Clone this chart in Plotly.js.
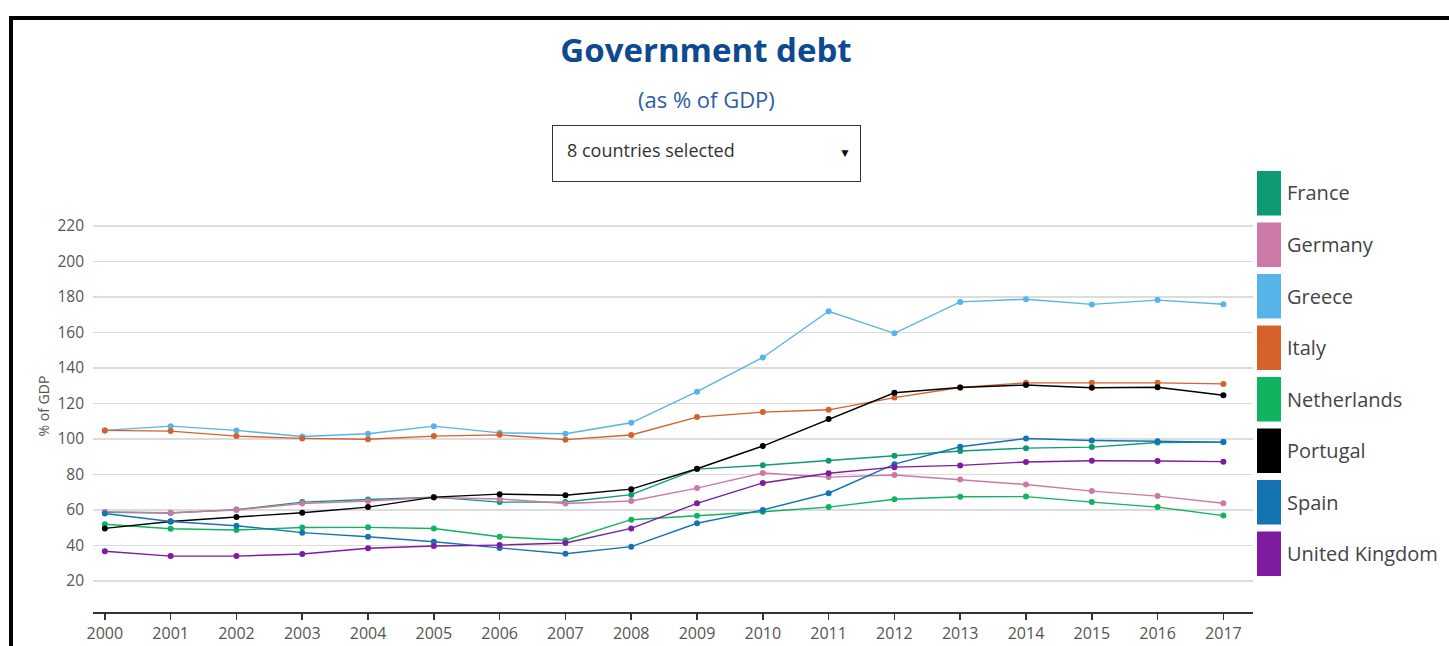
<!DOCTYPE html>
<html>
<head>
<meta charset="utf-8">
<script src="https://cdn.plot.ly/plotly-3.0.1.min.js"></script>
<style>
  html, body { margin: 0; padding: 0; background: #fff; }
  #wrap { position: relative; width: 1449px; height: 646px; overflow: hidden; }
  #chart { position: absolute; left: 0; top: 0; width: 1449px; height: 646px; }
  #frame { position: absolute; left: 9px; top: 16px; width: 1460px; height: 660px;
           border-top: 4px solid #000; border-left: 4px solid #000; pointer-events: none; }
  #dropdown { position: absolute; left: 552px; top: 125px; width: 307px; height: 55px;
              border: 1px solid #333; background: #fff; font-family: "Open Sans", sans-serif;
              font-size: 18px; color: #333; box-sizing: content-box; }
  #dropdown .lbl { position: absolute; left: 14px; top: 12px; }
  #dropdown .arr { position: absolute; right: 9px; top: 18px; font-size: 12px; color: #111; }
</style>
</head>
<body>
<div id="wrap">
  <div id="chart"></div>
  <div id="frame"></div>
  <div id="dropdown"><span class="lbl">8 countries selected</span><span class="arr">&#9660;</span></div>
</div>
<script>
// ---- Data ----
const years = [2000, 2001, 2002, 2003, 2004, 2005, 2006, 2007, 2008,
               2009, 2010, 2011, 2012, 2013, 2014, 2015, 2016, 2017];

const countries = ["France", "Germany", "Greece", "Italy", "Netherlands",
                   "Portugal", "Spain", "United Kingdom"];

const france      = [58.7, 58.3, 60.2, 64.4, 65.9, 67.2, 64.4, 64.5, 68.6, 83.0, 85.2, 87.7, 90.5, 93.2, 94.8, 95.4, 98.0, 98.2];
const germany     = [58.9, 58.4, 60.0, 63.6, 65.0, 67.0, 66.2, 63.6, 65.0, 72.3, 80.8, 78.5, 79.7, 77.2, 74.3, 70.6, 67.8, 63.8];
const greece      = [104.8, 107.2, 104.8, 101.4, 102.9, 107.2, 103.4, 102.9, 109.1, 126.6, 145.9, 171.9, 159.5, 177.2, 178.7, 175.8, 178.2, 175.9];
const italy       = [104.8, 104.4, 101.6, 100.3, 99.8, 101.6, 102.3, 99.6, 102.2, 112.3, 115.1, 116.4, 123.3, 129.0, 131.6, 131.6, 131.6, 131.0];
const netherlands = [51.9, 49.4, 48.7, 50.1, 50.2, 49.5, 44.9, 42.9, 54.5, 56.7, 59.0, 61.6, 66.0, 67.4, 67.5, 64.4, 61.6, 56.8];
const portugal    = [49.6, 53.5, 56.0, 58.4, 61.6, 67.2, 68.9, 68.3, 71.7, 83.2, 96.0, 111.2, 126.0, 129.0, 130.4, 128.8, 129.1, 124.6];
const spain       = [58.0, 53.5, 51.1, 47.2, 44.9, 42.1, 38.6, 35.3, 39.3, 52.5, 60.0, 69.4, 85.8, 95.6, 100.2, 99.1, 98.7, 98.2];
const uk          = [36.7, 34.0, 34.0, 35.2, 38.4, 39.7, 40.2, 41.4, 49.6, 63.7, 75.2, 80.7, 84.1, 85.1, 87.0, 87.7, 87.6, 87.2];

const seriesValues = [france, germany, greece, italy, netherlands, portugal, spain, uk];

const yTickValues = [20, 40, 60, 80, 100, 120, 140, 160, 180, 200, 220];

// ---- Styles ----
const colors = ["#0e9b74", "#cc79a7", "#56b4e9", "#d5622a", "#10b35f", "#000000", "#1473b3", "#7e1ba1"];
const FONT = '"Open Sans", "Noto Sans", sans-serif';

// plot area in pixels
const W = 1449, H = 646;
const L = 93, R = 1253, T = 200, B = 612;
const pxX = px => (px - L) / (R - L);
const pxY = py => (B - py) / (B - T);

const traces = countries.map((name, i) => ({
  type: "scatter",
  mode: "lines+markers",
  name: name,
  x: years,
  y: seriesValues[i],
  line: { color: colors[i], width: 1.4 },
  marker: { color: colors[i], size: 6 },
  showlegend: false,
  hoverinfo: "x+y+name"
}));

// custom legend: big rectangles + labels
const shapes = [];
const annotations = [];
countries.forEach((name, i) => {
  const top = 171 + i * 51.5;
  shapes.push({
    type: "rect", xref: "paper", yref: "paper",
    x0: pxX(1257), x1: pxX(1281), y0: pxY(top + 44.5), y1: pxY(top),
    fillcolor: colors[i], line: { width: 0 }
  });
  annotations.push({
    xref: "paper", yref: "paper",
    x: pxX(1285), y: pxY(top + 22),
    xanchor: "left", yanchor: "middle",
    text: name, showarrow: false,
    font: { family: FONT, size: 20, color: "#444" }
  });
});

// subtitle
annotations.push({
  xref: "paper", yref: "paper",
  x: pxX(706), y: pxY(99),
  xanchor: "center", yanchor: "middle",
  text: "(as % of GDP)", showarrow: false,
  font: { family: FONT, size: 22, color: "#2a5ea3" }
});

const layout = {
  width: W, height: H,
  margin: { l: L, r: W - R, t: T, b: H - B, pad: 0 },
  paper_bgcolor: "#fff",
  plot_bgcolor: "#fff",
  font: { family: FONT, color: "#555" },
  title: {
    text: "<b>Government debt</b>",
    font: { family: FONT, size: 33, color: "#0d4a8f" },
    xref: "container", yref: "container",
    x: 706 / W, y: 1 - 50 / H,
    xanchor: "center", yanchor: "middle"
  },
  xaxis: {
    range: [1999.82, 2017.45],
    tickvals: years,
    ticktext: years.map(String),
    showgrid: false,
    zeroline: false,
    showline: true,
    linecolor: "#333",
    linewidth: 1.5,
    ticks: "outside",
    ticklen: 6,
    tickwidth: 1.5,
    tickcolor: "#333",
    tickfont: { family: FONT, size: 16, color: "#555" },
    fixedrange: true
  },
  yaxis: {
    range: [2.5, 234.6],
    tickvals: yTickValues,
    showgrid: true,
    gridcolor: "#dcdcdc",
    gridwidth: 1.6,
    zeroline: false,
    showline: false,
    ticks: "",
    ticklabelstandoff: 8,
    tickfont: { family: FONT, size: 15.5, color: "#555" },
    title: { text: "% of GDP", font: { family: FONT, size: 14, color: "#555" }, standoff: 4 },
    fixedrange: true
  },
  shapes: shapes,
  annotations: annotations,
  showlegend: false
};

Plotly.newPlot("chart", traces, layout, { displayModeBar: false, staticPlot: true });
</script>
</body>
</html>
